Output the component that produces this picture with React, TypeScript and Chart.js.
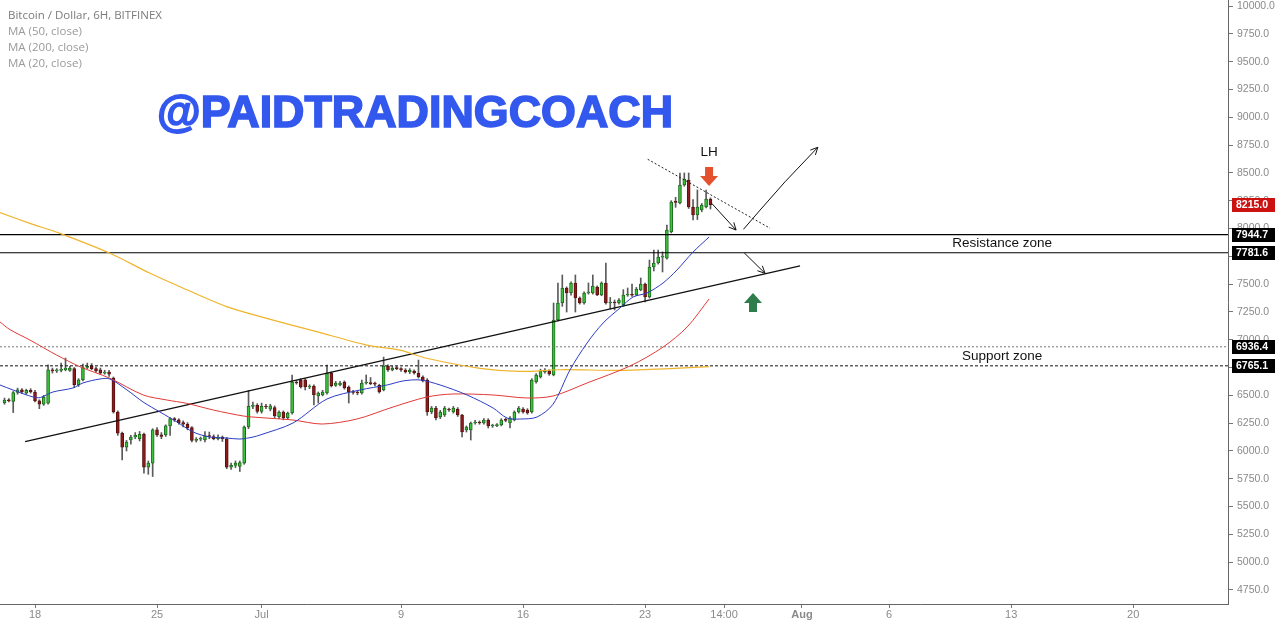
import React, { useEffect, useRef } from 'react';
import { Chart, registerables } from 'chart.js';

Chart.register(...registerables);

// Time axis: days since 1 June 2018 00:00. Candles are 6H.
const CANDLE_START = 15.25;
const CANDLE_STEP = 0.25;

// [open, high, low, close]
const ohlc: number[][] = [
  [6435, 6475, 6420, 6458], [6458, 6470, 6440, 6450], [6445, 6535, 6345, 6525], [6525, 6565, 6510, 6550],
  [6550, 6560, 6515, 6530], [6520, 6555, 6510, 6545], [6545, 6560, 6520, 6530], [6530, 6545, 6440, 6450],
  [6450, 6460, 6380, 6420], [6420, 6500, 6410, 6485], [6430, 6775, 6420, 6730], [6730, 6745, 6700, 6720],
  [6720, 6740, 6705, 6725], [6725, 6790, 6710, 6730], [6730, 6835, 6720, 6745], [6725, 6760, 6715, 6745],
  [6740, 6750, 6570, 6595], [6595, 6650, 6580, 6640], [6640, 6780, 6630, 6750], [6750, 6790, 6740, 6760],
  [6765, 6785, 6730, 6740], [6740, 6755, 6705, 6720], [6730, 6745, 6690, 6700], [6700, 6725, 6690, 6710],
  [6710, 6725, 6670, 6690], [6655, 6665, 6340, 6350], [6350, 6360, 6140, 6160], [6160, 6170, 5920, 6035],
  [6035, 6095, 6000, 6080], [6100, 6140, 6060, 6125], [6125, 6165, 6110, 6140], [6110, 6175, 6090, 6150],
  [6150, 6160, 5800, 5855], [5855, 5910, 5790, 5890], [5890, 6200, 5770, 6190], [6190, 6210, 6130, 6145],
  [6145, 6165, 6110, 6130], [6145, 6235, 6130, 6225], [6225, 6300, 6140, 6290], [6290, 6300, 6265, 6280],
  [6280, 6290, 6240, 6255], [6255, 6270, 6215, 6240], [6240, 6255, 6190, 6210], [6210, 6220, 6080, 6095],
  [6095, 6120, 6080, 6105], [6105, 6125, 6090, 6110], [6100, 6175, 6080, 6135], [6135, 6170, 6110, 6130],
  [6130, 6145, 6100, 6110], [6110, 6145, 6100, 6125], [6125, 6135, 6085, 6110], [6110, 6120, 5840, 5855],
  [5855, 5890, 5835, 5870], [5870, 5910, 5850, 5890], [5860, 5910, 5815, 5895], [5890, 6225, 5880, 6215],
  [6215, 6545, 6200, 6400], [6400, 6440, 6380, 6410], [6410, 6425, 6340, 6355], [6355, 6430, 6340, 6400],
  [6400, 6420, 6380, 6395], [6375, 6420, 6360, 6405], [6390, 6405, 6300, 6315], [6305, 6360, 6290, 6350],
  [6350, 6360, 6280, 6296], [6296, 6350, 6285, 6341], [6341, 6683, 6330, 6620], [6620, 6635, 6600, 6611],
  [6638, 6650, 6565, 6575], [6640, 6650, 6548, 6575], [6575, 6595, 6560, 6580], [6584, 6595, 6413, 6503],
  [6494, 6530, 6431, 6521], [6503, 6545, 6495, 6530], [6521, 6773, 6510, 6701], [6701, 6710, 6575, 6584],
  [6590, 6625, 6580, 6611], [6593, 6625, 6585, 6611], [6620, 6630, 6555, 6566], [6575, 6585, 6431, 6530],
  [6530, 6545, 6510, 6525], [6525, 6540, 6505, 6521], [6521, 6638, 6510, 6611], [6611, 6683, 6600, 6615],
  [6615, 6660, 6595, 6605], [6605, 6620, 6585, 6600], [6590, 6600, 6520, 6530], [6548, 6844, 6540, 6764],
  [6764, 6775, 6715, 6728], [6728, 6760, 6720, 6746], [6746, 6760, 6730, 6740], [6740, 6750, 6715, 6728],
  [6728, 6740, 6700, 6710], [6710, 6740, 6695, 6728], [6719, 6730, 6690, 6701], [6701, 6817, 6655, 6665],
  [6665, 6675, 6620, 6629], [6638, 6650, 6320, 6350], [6350, 6400, 6335, 6386], [6386, 6400, 6280, 6296],
  [6305, 6365, 6290, 6350], [6323, 6400, 6310, 6386], [6370, 6385, 6355, 6368], [6350, 6400, 6340, 6386],
  [6377, 6390, 6310, 6323], [6323, 6330, 6125, 6170], [6188, 6225, 6170, 6215], [6188, 6260, 6098, 6251],
  [6251, 6275, 6240, 6260], [6260, 6270, 6240, 6251], [6251, 6290, 6240, 6278], [6278, 6290, 6206, 6224],
  [6224, 6240, 6212, 6228], [6228, 6245, 6218, 6233], [6233, 6290, 6225, 6278], [6278, 6295, 6262, 6275],
  [6251, 6310, 6206, 6296], [6278, 6360, 6270, 6350], [6350, 6400, 6340, 6386], [6377, 6390, 6340, 6350],
  [6368, 6380, 6330, 6341], [6350, 6650, 6340, 6638], [6620, 6695, 6610, 6683], [6665, 6735, 6655, 6719],
  [6710, 6740, 6700, 6728], [6719, 6730, 6680, 6692], [6683, 7330, 6675, 7177], [7177, 7510, 7170, 7330],
  [7330, 7582, 7300, 7465], [7465, 7475, 7249, 7420], [7420, 7520, 7400, 7510], [7510, 7582, 7249, 7375],
  [7375, 7385, 7320, 7330], [7330, 7430, 7320, 7420], [7420, 7510, 7410, 7429], [7420, 7582, 7410, 7483],
  [7474, 7485, 7395, 7402], [7402, 7520, 7395, 7510], [7510, 7690, 7320, 7330], [7330, 7380, 7275, 7339],
  [7339, 7357, 7267, 7330], [7330, 7370, 7320, 7357], [7312, 7450, 7300, 7402], [7402, 7465, 7390, 7405],
  [7405, 7500, 7390, 7400], [7402, 7470, 7395, 7456], [7447, 7555, 7440, 7501], [7501, 7510, 7339, 7384],
  [7384, 7716, 7375, 7654], [7654, 7806, 7618, 7690], [7690, 7806, 7680, 7743], [7743, 7790, 7609, 7745],
  [7734, 8031, 7725, 7986], [7968, 8250, 7960, 8238], [8238, 8280, 8190, 8235], [8229, 8499, 8220, 8391],
  [8391, 8499, 8380, 8445], [8436, 8499, 8180, 8193], [8193, 8260, 8076, 8121], [8121, 8346, 8080, 8193],
  [8166, 8225, 8150, 8211], [8193, 8346, 8185, 8265], [8265, 8275, 8175, 8215],
];

// Moving averages: [day, price]
const ma200: number[][] = [
  [14.99, 8142], [16.71, 8046], [18.43, 7956], [21.30, 7777], [23.60, 7597], [25.32, 7476],
  [27.99, 7297], [30.29, 7192], [33.16, 7072], [36.03, 6952], [37.94, 6907], [39.47, 6833],
  [42.53, 6743], [44.83, 6715], [47.12, 6730], [50.56, 6725], [53.43, 6740], [55.67, 6758],
];
const ma50: number[][] = [
  [14.99, 7160], [15.57, 7090], [16.71, 6997], [18.24, 6862], [19.58, 6757], [21.30, 6653],
  [23.21, 6503], [24.56, 6458], [25.70, 6428], [27.23, 6368], [28.95, 6314], [29.91, 6300],
  [31.80, 6278], [33.47, 6242], [35.47, 6287], [37.54, 6395], [39.49, 6485], [40.98, 6512],
  [43.28, 6503], [45.23, 6476], [46.72, 6494], [48.67, 6611], [51.14, 6764], [53.03, 6934],
  [54.41, 7114], [55.67, 7366],
];
const ma20: number[][] = [
  [14.99, 6593], [15.74, 6548], [16.89, 6485], [17.30, 6480], [18.03, 6530], [19.18, 6566],
  [19.75, 6611], [20.73, 6647], [21.30, 6647], [22.28, 6548], [23.20, 6440], [24.17, 6350],
  [25.15, 6260], [26.07, 6170], [27.04, 6125], [28.02, 6116], [28.76, 6107], [29.51, 6125],
  [29.91, 6143], [31.80, 6251], [33.75, 6467], [35.65, 6548], [37.20, 6593], [38.11, 6629],
  [39.09, 6638], [40.24, 6593], [41.79, 6503], [43.28, 6386], [44.08, 6296], [44.83, 6287],
  [45.80, 6305], [46.72, 6420], [47.69, 6728], [48.67, 6970], [49.59, 7150], [50.56, 7285],
  [51.31, 7384], [52.11, 7420], [53.03, 7510], [53.83, 7627], [54.75, 7788], [55.67, 7923],
];

const resistanceLevels = [7944.7, 7781.6];
const supportLevels = [6936.4, 6765.1];
const lastPrice = 8215.0;

const xTickValues = [17, 24, 30, 38, 45, 52, 56.53, 61, 66, 73, 80];
const xTickLabels = ['18', '25', 'Jul', '9', '16', '23', '14:00', 'Aug', '6', '13', '20'];
const yTickValues = [4750, 5000, 5250, 5500, 5750, 6000, 6250, 6500, 6750, 7000, 7250, 7500, 7750, 8000,
  8250, 8500, 8750, 9000, 9250, 9500, 9750, 10000];

// Drawings, in [day, price]
const trendUp = [[16.43, 6083], [60.89, 7663]];
const trendDown = [[52.15, 8622], [59.17, 8002]];
const arrowA = [[55.82, 8226], [57.22, 7986]];
const arrowB = [[57.64, 7992], [58.60, 8166], [60.03, 8420], [61.91, 8730]];
const arrowC = [[57.68, 7782], [58.88, 7597]];
const markerDown = [55.67, 8463];
const markerUp = [58.19, 7339];
const labelLH = [55.67, 8687];
const labelResistance = [72.48, 7869];
const labelSupport = [72.48, 6853];

const legendLines = ['Bitcoin / Dollar, 6H, BITFINEX', 'MA (50, close)', 'MA (200, close)', 'MA (20, close)'];
const watermark = '@PAIDTRADINGCOACH';

const X_MIN = 14.992;
const X_MAX = 85.44;
const Y_MIN = 4624;
const Y_MAX = 10054;

const toXY = (pts: number[][]) => pts.map(p => ({ x: p[0], y: p[1] }));
const hLine = (v: number) => [{ x: X_MIN, y: v }, { x: X_MAX, y: v }];

function lineDs(data: any[], color: string, width: number, dash: number[] = [], order = 0, tension = 0) {
  return {
    type: 'line' as const,
    data,
    borderColor: color,
    borderWidth: width,
    borderDash: dash,
    pointRadius: 0,
    fill: false,
    tension,
    order,
  };
}

function head(ctx: CanvasRenderingContext2D, x1: number, y1: number, x2: number, y2: number) {
  const a = Math.atan2(y2 - y1, x2 - x1);
  const len = 8, sp = 0.45;
  ctx.beginPath();
  ctx.moveTo(x2 - len * Math.cos(a - sp), y2 - len * Math.sin(a - sp));
  ctx.lineTo(x2, y2);
  ctx.lineTo(x2 - len * Math.cos(a + sp), y2 - len * Math.sin(a + sp));
  ctx.stroke();
}

const overlay = {
  id: 'overlay',
  afterDatasetsDraw(chart: any) {
    const { ctx, scales } = chart;
    const x = scales.x, y = scales.y;
    const px = (p: number[]) => [x.getPixelForValue(p[0]), y.getPixelForValue(p[1])];
    ctx.save();
    ctx.strokeStyle = '#111';
    ctx.lineWidth = 1;
    [arrowA, arrowB, arrowC].forEach(a => {
      const p1 = px(a[a.length - 2]);
      const p2 = px(a[a.length - 1]);
      head(ctx, p1[0], p1[1], p2[0], p2[1]);
    });
    // block arrows
    const [dx, dy] = px(markerDown);
    ctx.fillStyle = '#e4512f';
    ctx.fillRect(dx - 4, dy - 10, 8, 10);
    ctx.beginPath();
    ctx.moveTo(dx - 9, dy - 1);
    ctx.lineTo(dx + 9, dy - 1);
    ctx.lineTo(dx, dy + 9);
    ctx.closePath();
    ctx.fill();
    const [ux, uy] = px(markerUp);
    ctx.fillStyle = '#2f7d4c';
    ctx.fillRect(ux - 4, uy, 8, 10);
    ctx.beginPath();
    ctx.moveTo(ux - 9, uy + 1);
    ctx.lineTo(ux + 9, uy + 1);
    ctx.lineTo(ux, uy - 9);
    ctx.closePath();
    ctx.fill();
    // texts
    ctx.fillStyle = '#111';
    ctx.textAlign = 'center';
    ctx.textBaseline = 'middle';
    ctx.font = '13.5px "Liberation Sans", Arial, sans-serif';
    const t1 = px(labelLH);
    ctx.fillText('LH', t1[0], t1[1]);
    const t2 = px(labelResistance);
    ctx.fillText('Resistance zone', t2[0], t2[1]);
    const t3 = px(labelSupport);
    ctx.fillText('Support zone', t3[0], t3[1]);
    ctx.restore();
  },
  afterDraw(chart: any) {
    const { ctx, scales } = chart;
    const y = scales.y;
    const left = chart.chartArea.right;
    ctx.save();
    ctx.textBaseline = 'middle';
    ctx.textAlign = 'left';
    ctx.font = 'bold 10.5px "Liberation Sans", Arial, sans-serif';
    const boxes: [number, string][] = [[lastPrice, '#cc1111']];
    resistanceLevels.forEach(v => boxes.push([v, '#000']));
    supportLevels.forEach(v => boxes.push([v, '#000']));
    boxes.forEach(([v, c]) => {
      const py = Math.round(y.getPixelForValue(v));
      ctx.fillStyle = c;
      ctx.fillRect(left + 4, py - 7, 43, 14);
      ctx.fillStyle = '#fff';
      ctx.fillText(v.toFixed(1), left + 8, py + 0.5);
    });
    // legend
    ctx.font = '11.5px "Open Sans", sans-serif';
    legendLines.forEach((s, i) => {
      ctx.fillStyle = i === 0 ? '#7b7b7b' : '#9a9a9a';
      ctx.fillText(s, 8, 16 + i * 16);
    });
    // watermark
    ctx.font = 'bold 44px "Liberation Sans", Arial, sans-serif';
    ctx.textBaseline = 'alphabetic';
    const w = ctx.measureText(watermark).width;
    ctx.translate(157, 127);
    ctx.scale(516 / w, 1);
    ctx.fillStyle = '#3358ee';
    ctx.strokeStyle = '#3358ee';
    ctx.lineWidth = 1.6;
    ctx.fillText(watermark, 0, 0);
    ctx.strokeText(watermark, 0, 0);
    ctx.restore();
  },
};

export default function App() {
  const ref = useRef<HTMLCanvasElement>(null);
  useEffect(() => {
    document.body.style.margin = '0';
    const up = (c: number[]) => c[3] >= c[0];
    const times = ohlc.map((_, i) => CANDLE_START + i * CANDLE_STEP);
    const chart = new Chart(ref.current as HTMLCanvasElement, {
      type: 'bar',
      data: {
        datasets: [
          lineDs(toXY(ma20), '#2b3cc0', 1, [], 0, 0.3),
          lineDs(toXY(ma50), '#e03a36', 1, [], 0, 0.3),
          lineDs(toXY(ma200), '#f0b42c', 1.2, [], 0, 0.3),
          lineDs(toXY(trendUp), '#111', 1.3, [], 0),
          lineDs(toXY(trendDown), '#222', 1, [2, 2], 0),
          lineDs(toXY(arrowA), '#111', 1, [], 0),
          lineDs(toXY(arrowB), '#111', 1, [], 0),
          lineDs(toXY(arrowC), '#111', 1, [], 0),
          lineDs(hLine(resistanceLevels[0]), '#000', 1.2, [], 0),
          lineDs(hLine(resistanceLevels[1]), '#000', 1.2, [], 0),
          lineDs(hLine(supportLevels[0]), '#777', 1, [2, 2], 0),
          lineDs(hLine(supportLevels[1]), '#111', 1, [3, 2], 0),
          {
            type: 'bar' as const,
            data: ohlc.map((c, i) => ({ x: times[i], y: [c[0], c[3]] })) as any,
            backgroundColor: ohlc.map(c => (up(c) ? '#3cc23c' : '#8e1b1b')),
            borderColor: ohlc.map(c => (up(c) ? '#1d6b1d' : '#5a1010')),
            borderWidth: 1,
            borderSkipped: false,
            barThickness: 3,
            minBarLength: 1,
            grouped: false,
            order: 2,
          },
          {
            type: 'bar' as const,
            data: ohlc.map((c, i) => ({ x: times[i], y: [c[2], c[1]] })) as any,
            backgroundColor: '#5a5a5a',
            borderWidth: 0,
            barThickness: 1,
            grouped: false,
            order: 3,
          },
        ] as any,
      },
      options: {
        responsive: false,
        animation: false,
        devicePixelRatio: 1,
        layout: { padding: 0 },
        plugins: { legend: { display: false }, tooltip: { enabled: false } },
        events: [],
        scales: {
          x: {
            type: 'linear',
            min: X_MIN,
            max: X_MAX,
            offset: false,
            grid: { display: true, drawOnChartArea: false, drawTicks: true, tickLength: 4, color: '#777', offset: false },
            border: { display: true, color: '#666', width: 1 },
            ticks: {
              autoSkip: false,
              maxRotation: 0,
              padding: 0,
              color: '#8a8a8a',
              font: (ctx: any) => ({
                family: '"Liberation Sans", Arial, sans-serif',
                size: 11,
                weight: ctx.tick && xTickLabels[xTickValues.indexOf(ctx.tick.value)] === 'Aug' ? 'bold' : 'normal',
              }),
              callback: (v: any) => {
                const i = xTickValues.indexOf(Number(v));
                return i >= 0 ? xTickLabels[i] : '';
              },
            },
            afterBuildTicks: (s: any) => { s.ticks = xTickValues.map(v => ({ value: v })); },
            afterFit: (s: any) => { s.height = 18; s.paddingLeft = 0; s.paddingRight = 0; },
          },
          y: {
            type: 'linear',
            position: 'right',
            min: Y_MIN,
            max: Y_MAX,
            grid: { display: true, drawOnChartArea: false, drawTicks: true, tickLength: 5, color: '#777' },
            border: { display: true, color: '#666', width: 1 },
            ticks: {
              padding: 4,
              color: '#8a8a8a',
              font: { family: '"Liberation Sans", Arial, sans-serif', size: 10.5 },
              callback: (v: any) => Number(v).toFixed(1),
            },
            afterBuildTicks: (s: any) => { s.ticks = yTickValues.map(v => ({ value: v })); },
            afterFit: (s: any) => { s.width = 52; s.paddingTop = 0; s.paddingBottom = 0; },
          },
        },
      } as any,
      plugins: [overlay],
    });
    return () => chart.destroy();
  }, []);
  return (
    <div style={{ width: 1280, height: 622 }}>
      <canvas ref={ref} width={1280} height={622} style={{ display: 'block', width: 1280, height: 622 }} />
    </div>
  );
}
